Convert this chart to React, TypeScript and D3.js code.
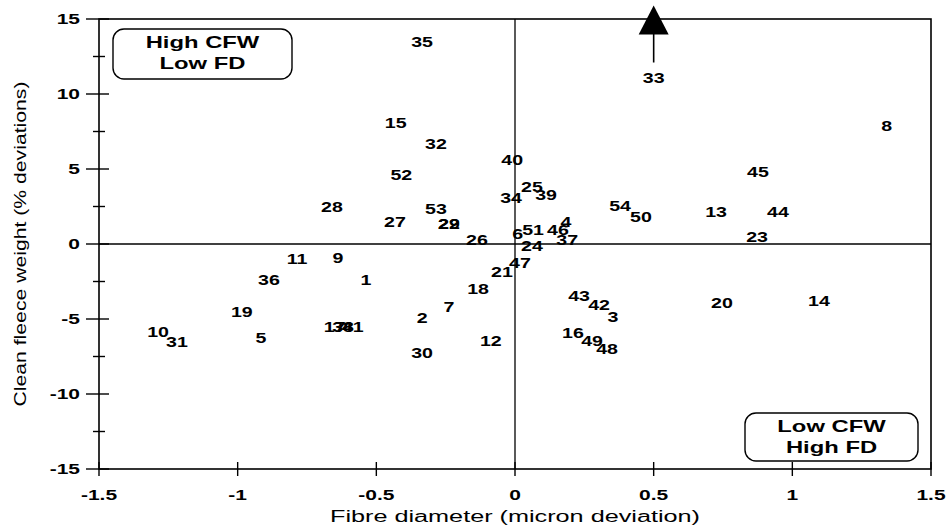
import React, { useEffect, useRef } from "react";
import * as d3 from "d3";

// sheep / sire numbers and their deviations
const ids = [
  "1", "2", "3", "4", "5", "6", "7", "8", "9", "10",
  "11", "12", "13", "14", "15", "16", "17", "18", "19", "20",
  "21", "22", "23", "24", "25", "26", "27", "28", "29", "30",
  "31", "32", "33", "34", "35", "36", "37", "38", "39", "40",
  "41", "42", "43", "44", "45", "46", "47", "48", "49", "50",
  "51", "52", "53", "54",
];
// fibre diameter (micron deviation)
const fd = [
  -0.537, -0.335, 0.353, 0.184, -0.916, 0.01, -0.238, 1.34, -0.638, -1.287,
  -0.786, -0.087, 0.725, 1.096, -0.43, 0.209, -0.65, -0.133, -0.985, 0.746,
  -0.047, -0.238, 0.873, 0.061, 0.061, -0.137, -0.433, -0.66, -0.238, -0.335,
  -1.219, -0.285, 0.5, -0.014, -0.335, -0.887, 0.188, -0.62, 0.112, -0.01,
  -0.585, 0.303, 0.231, 0.948, 0.876, 0.155, 0.018, 0.332, 0.278, 0.454,
  0.065, -0.41, -0.285, 0.379,
];
// clean fleece weight (% deviation)
const cfw = [
  -2.4, -4.93, -4.87, 1.45, -6.25, 0.65, -4.2, 7.85, -0.95, -5.85,
  -1.0, -6.47, 2.15, -3.8, 8.1, -5.93, -5.53, -3.0, -4.55, -3.93,
  -1.87, 1.35, 0.45, -0.15, 3.8, 0.27, 1.45, 2.45, 1.35, -7.27,
  -6.55, 6.7, 11.1, 3.05, 13.5, -2.4, 0.25, -5.53, 3.25, 5.6,
  -5.53, -4.07, -3.47, 2.15, 4.8, 0.95, -1.27, -7.0, -6.47, 1.8,
  0.95, 4.6, 2.35, 2.55,
];

const xTicks = [-1.5, -1, -0.5, 0, 0.5, 1, 1.5];
const yTicks = [15, 10, 5, 0, -5, -10, -15];
const yMinor = [12.5, 7.5, 2.5, -2.5, -7.5, -12.5];

const font = "'Liberation Sans', Arial, Helvetica, sans-serif";
const stretch = "scale(1.4,1)";

export default function App() {
  const ref = useRef<SVGSVGElement>(null);

  useEffect(() => {
    const svg = d3.select(ref.current);
    svg.selectAll("*").remove();

    const x = d3.scaleLinear().domain([-1.5, 1.5]).range([99, 931]);
    const y = d3.scaleLinear().domain([-15, 15]).range([469, 19]);

    const g = svg.append("g").attr("font-family", font).attr("fill", "#000");

    // frame + zero lines
    g.append("rect")
      .attr("x", x(-1.5))
      .attr("y", y(15))
      .attr("width", x(1.5) - x(-1.5))
      .attr("height", y(-15) - y(15))
      .attr("fill", "none")
      .attr("stroke", "#000")
      .attr("stroke-width", 1.6);
    g.append("line")
      .attr("x1", x(-1.5)).attr("x2", x(1.5))
      .attr("y1", y(0)).attr("y2", y(0))
      .attr("stroke", "#000").attr("stroke-width", 1.3);
    g.append("line")
      .attr("x1", x(0)).attr("x2", x(0))
      .attr("y1", y(15)).attr("y2", y(-15))
      .attr("stroke", "#000").attr("stroke-width", 1.3);

    // y ticks
    g.selectAll(".ymaj")
      .data(yTicks)
      .enter()
      .append("line")
      .attr("x1", x(-1.5) - 13).attr("x2", x(-1.5) + 10)
      .attr("y1", (d) => y(d)).attr("y2", (d) => y(d))
      .attr("stroke", "#000").attr("stroke-width", 1.4);
    g.selectAll(".ymin")
      .data(yMinor)
      .enter()
      .append("line")
      .attr("x1", x(-1.5) - 6).attr("x2", x(-1.5) + 6)
      .attr("y1", (d) => y(d)).attr("y2", (d) => y(d))
      .attr("stroke", "#000").attr("stroke-width", 1.4);
    g.selectAll(".ylab")
      .data(yTicks)
      .enter()
      .append("text")
      .attr("transform", (d) => `translate(80,${y(d)}) ${stretch}`)
      .attr("text-anchor", "end")
      .attr("dy", "0.36em")
      .attr("font-size", 15)
      .attr("font-weight", "bold")
      .text((d) => d);

    // x ticks
    g.selectAll(".xt")
      .data(xTicks)
      .enter()
      .append("line")
      .attr("x1", (d) => x(d)).attr("x2", (d) => x(d))
      .attr("y1", y(-15) - 7).attr("y2", y(-15) + 7)
      .attr("stroke", "#000").attr("stroke-width", 1.4);
    g.selectAll(".xlab")
      .data(xTicks)
      .enter()
      .append("text")
      .attr("transform", (d) => `translate(${x(d)},500) ${stretch}`)
      .attr("text-anchor", "middle")
      .attr("font-size", 15)
      .attr("font-weight", "bold")
      .text((d) => d);

    // axis titles
    g.append("text")
      .attr("x", (x(-1.5) + x(1.5)) / 2)
      .attr("y", 522)
      .attr("text-anchor", "middle")
      .attr("font-size", 16)
      .attr("textLength", 370)
      .attr("lengthAdjust", "spacingAndGlyphs")
      .text("Fibre diameter (micron deviation)");
    g.append("text")
      .attr("transform", `translate(26,${y(0)}) rotate(-90)`)
      .attr("text-anchor", "middle")
      .attr("font-size", 17)
      .attr("textLength", 325)
      .attr("lengthAdjust", "spacingAndGlyphs")
      .text("Clean fleece weight (% deviations)");

    // point labels
    g.selectAll(".pt")
      .data(ids)
      .enter()
      .append("text")
      .attr("transform", (d, i) => `translate(${x(fd[i])},${y(cfw[i])}) ${stretch}`)
      .attr("text-anchor", "middle")
      .attr("dy", "0.36em")
      .attr("font-size", 14)
      .attr("font-weight", "bold")
      .text((d) => d);

    // arrow for the off-scale point 33
    const i33 = ids.indexOf("33");
    const ax = x(fd[i33]);
    const ay = y(cfw[i33]);
    g.append("line")
      .attr("x1", ax).attr("x2", ax)
      .attr("y1", ay - 15).attr("y2", ay - 44)
      .attr("stroke", "#000").attr("stroke-width", 1.6);
    g.append("path")
      .attr("d", `M${ax},${ay - 72} L${ax - 15},${ay - 43} L${ax + 15},${ay - 43} Z`)
      .attr("fill", "#000");

    // quadrant boxes
    const boxes = [
      { x0: 113, y0: 29, w: 179, h: 50, l1: "High CFW", l2: "Low FD" },
      { x0: 745, y0: 413, w: 173, h: 48, l1: "Low CFW", l2: "High FD" },
    ];
    boxes.forEach((b) => {
      g.append("rect")
        .attr("x", b.x0).attr("y", b.y0)
        .attr("width", b.w).attr("height", b.h)
        .attr("rx", 11)
        .attr("fill", "#fff")
        .attr("stroke", "#000")
        .attr("stroke-width", 1.4);
      g.append("text")
        .attr("transform", `translate(${b.x0 + b.w / 2},${b.y0 + 19}) ${stretch}`)
        .attr("text-anchor", "middle")
        .attr("font-size", 17)
        .attr("font-weight", "bold")
        .text(b.l1);
      g.append("text")
        .attr("transform", `translate(${b.x0 + b.w / 2},${b.y0 + 40}) ${stretch}`)
        .attr("text-anchor", "middle")
        .attr("font-size", 17)
        .attr("font-weight", "bold")
        .text(b.l2);
    });
  }, []);

  return (
    <svg
      ref={ref}
      width={946}
      height={531}
      style={{ position: "absolute", left: 0, top: 0, background: "#fff" }}
    />
  );
}
